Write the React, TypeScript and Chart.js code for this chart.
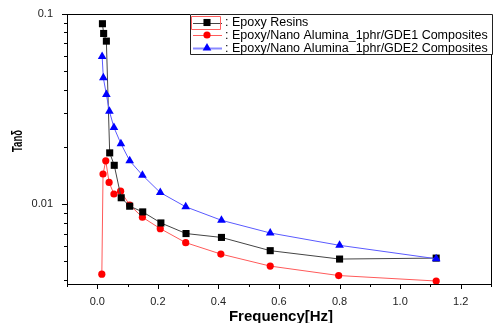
import React, { useEffect, useRef } from 'react';
import { Chart, registerables } from 'chart.js';

Chart.register(...registerables);

const seriesNames = [': Epoxy Resins', ': Epoxy/Nano Alumina_1phr/GDE1 Composites', ': Epoxy/Nano Alumina_1phr/GDE2 Composites'];

const resinFreq = [0.017, 0.021, 0.030, 0.041, 0.056, 0.079, 0.107, 0.150, 0.210, 0.293, 0.410, 0.571, 0.800, 1.119];
const resinTan = [0.0889, 0.079, 0.072, 0.0186, 0.0160, 0.0108, 0.00975, 0.0091, 0.00796, 0.0070, 0.00668, 0.00569, 0.00514, 0.0052];

const gde1Freq = [0.015, 0.019, 0.028, 0.039, 0.055, 0.077, 0.107, 0.149, 0.208, 0.292, 0.408, 0.571, 0.797, 1.119];
const gde1Tan = [0.00428, 0.0144, 0.0169, 0.0130, 0.0113, 0.0117, 0.00989, 0.00853, 0.00743, 0.00627, 0.00546, 0.00472, 0.00421, 0.00394];

const gde2Freq = [0.016, 0.020, 0.030, 0.040, 0.055, 0.078, 0.107, 0.149, 0.208, 0.292, 0.410, 0.571, 0.800, 1.119];
const gde2Tan = [0.0597, 0.0462, 0.0377, 0.0308, 0.0253, 0.0208, 0.0169, 0.0142, 0.0115, 0.00968, 0.00822, 0.00705, 0.00607, 0.00516];

const xTickLabels = ['0.0', '0.2', '0.4', '0.6', '0.8', '1.0', '1.2'];
const yTickLabels = ['0.01', '0.1'];

const xTitle = 'Frequency[Hz]';
const yTitle = 'Tanδ';

const FONT = 'Arial, "Liberation Sans", sans-serif';

const lineColors = ['#444444', '#ff5a5a', '#5a5aff'];
const markerColors = ['#000000', '#ff0000', '#0000ff'];
const markerStyles = ['rect', 'circle', 'triangle'];
const markerRadius = [5, 3.6, 5];

function toPoints(xs: number[], ys: number[]) {
  return xs.map((x, i) => ({ x, y: ys[i] }));
}

function drawMarker(ctx: CanvasRenderingContext2D, style: string, x: number, y: number, r: number, color: string) {
  ctx.save();
  ctx.fillStyle = color;
  ctx.beginPath();
  if (style === 'rect') {
    const s = r * Math.SQRT1_2;
    ctx.rect(x - s, y - s, 2 * s, 2 * s);
  } else if (style === 'circle') {
    ctx.arc(x, y, r, 0, Math.PI * 2);
  } else {
    ctx.moveTo(x, y - r);
    ctx.lineTo(x + r * 0.866, y + r * 0.5);
    ctx.lineTo(x - r * 0.866, y + r * 0.5);
    ctx.closePath();
  }
  ctx.fill();
  ctx.restore();
}

const framePlugin = {
  id: 'frame',
  afterDraw(chart: any) {
    const { ctx, chartArea: a, scales } = chart;
    const xs = scales.x;
    const ys = scales.y;
    ctx.save();
    ctx.strokeStyle = '#000';
    ctx.lineWidth = 1;
    ctx.strokeRect(Math.round(a.left) + 0.5, Math.round(a.top) + 0.5, Math.round(a.right - a.left), Math.round(a.bottom - a.top));
    // x ticks
    ctx.beginPath();
    for (let i = -1; i <= 13; i++) {
      const v = i / 10;
      const px = Math.round(xs.getPixelForValue(v)) + 0.5;
      const major = i % 2 === 0;
      ctx.moveTo(px, a.bottom);
      ctx.lineTo(px, a.bottom + (major ? 5 : 3));
    }
    // y ticks
    for (let d = -3; d <= -1; d++) {
      for (let m = 1; m <= 9; m++) {
        const v = m * Math.pow(10, d);
        if (v < ys.min - 1e-9 || v > ys.max + 1e-9) continue;
        const py = Math.round(ys.getPixelForValue(v)) + 0.5;
        const major = m === 1;
        ctx.moveTo(a.left, py);
        ctx.lineTo(a.left - (major ? 5 : 3), py);
      }
    }
    ctx.stroke();

    // titles
    ctx.fillStyle = '#000';
    ctx.font = `bold 15px ${FONT}`;
    ctx.textAlign = 'center';
    ctx.textBaseline = 'middle';
    ctx.fillText(xTitle, (a.left + a.right) / 2 + 2, 316.5);
    ctx.save();
    ctx.font = `bold 14px ${FONT}`;
    const w = ctx.measureText(yTitle).width;
    ctx.translate(18.5, 141);
    ctx.rotate(-Math.PI / 2);
    ctx.scale(22 / w, 1);
    ctx.fillText(yTitle, 0, 0);
    ctx.restore();

    // legend
    const lx = 190, ly = 14, lw = 302, lh = 40;
    ctx.fillStyle = '#fff';
    ctx.fillRect(lx, ly, lw, lh);
    ctx.strokeStyle = '#222222';
    ctx.lineWidth = 1;
    ctx.beginPath();
    ctx.rect(lx + 0.5, ly + 0.5, lw, lh);
    ctx.stroke();
    const rows = [22.5, 35, 48];
    ctx.font = `12.5px ${FONT}`;
    ctx.textAlign = 'left';
    for (let i = 0; i < 3; i++) {
      const y = rows[i];
      ctx.strokeStyle = i === 2 ? '#8a8aff' : lineColors[i];
      ctx.lineWidth = i === 2 ? 2 : 1;
      ctx.beginPath();
      ctx.moveTo(193, Math.round(y) + 0.5);
      ctx.lineTo(222, Math.round(y) + 0.5);
      ctx.stroke();
      drawMarker(ctx, markerStyles[i], 207, y, markerRadius[i], markerColors[i]);
      ctx.fillStyle = '#000';
      ctx.fillText(seriesNames[i], 225, y + 0.5);
    }
    ctx.strokeStyle = '#ff6060';
    ctx.lineWidth = 1;
    ctx.beginPath();
    ctx.rect(191.5, 16.5, 29, 13);
    ctx.stroke();
    ctx.restore();
  },
};

export default function App() {
  const ref = useRef<HTMLCanvasElement>(null);
  useEffect(() => {
    document.body.style.margin = '0';
    const mk = (i: number, xs: number[], ys: number[]) => ({
      label: seriesNames[i],
      data: toPoints(xs, ys),
      borderColor: lineColors[i],
      backgroundColor: markerColors[i],
      borderWidth: 1,
      pointStyle: markerStyles[i] as any,
      pointRadius: markerRadius[i],
      pointBorderWidth: 0,
      pointBackgroundColor: markerColors[i],
      pointBorderColor: markerColors[i],
      showLine: true,
      tension: 0,
    });
    const chart = new Chart(ref.current!, {
      type: 'scatter',
      data: {
        datasets: [mk(2, gde2Freq, gde2Tan), mk(0, resinFreq, resinTan), mk(1, gde1Freq, gde1Tan)],
      },
      options: {
        animation: false,
        responsive: false,
        layout: { padding: { top: 14, right: 4, left: 0, bottom: 0 } },
        plugins: { legend: { display: false }, tooltip: { enabled: false } },
        scales: {
          x: {
            type: 'linear',
            min: -0.1,
            max: 1.3,
            grid: { display: false },
            border: { display: false },
            afterFit: (s: any) => { s.height = 39; },
            afterBuildTicks: (s: any) => {
              s.ticks = xTickLabels.map((t) => ({ value: parseFloat(t) }));
            },
            ticks: {
              autoSkip: false,
              maxRotation: 0,
              padding: 3,
              color: '#222',
              font: { family: FONT, size: 11 },
              callback: (v: any) => {
                const idx = xTickLabels.findIndex((t) => Math.abs(parseFloat(t) - v) < 1e-6);
                return idx >= 0 ? xTickLabels[idx] : '';
              },
            },
          },
          y: {
            type: 'logarithmic',
            min: 0.0038,
            max: 0.1,
            grid: { display: false },
            border: { display: false },
            afterFit: (s: any) => { s.width = 67; },
            afterBuildTicks: (s: any) => {
              s.ticks = yTickLabels.map((t) => ({ value: parseFloat(t) }));
            },
            ticks: {
              autoSkip: false,
              padding: 6,
              color: '#222',
              font: { family: FONT, size: 11 },
              callback: (v: any) => {
                const idx = yTickLabels.findIndex((t) => Math.abs(parseFloat(t) - v) < 1e-9);
                return idx >= 0 ? yTickLabels[idx] : '';
              },
            },
          },
        },
      },
      plugins: [framePlugin],
    });
    return () => chart.destroy();
  }, []);
  return (
    <div style={{ width: 496, height: 323 }}>
      <canvas ref={ref} width={496} height={323} style={{ display: 'block' }} />
    </div>
  );
}
